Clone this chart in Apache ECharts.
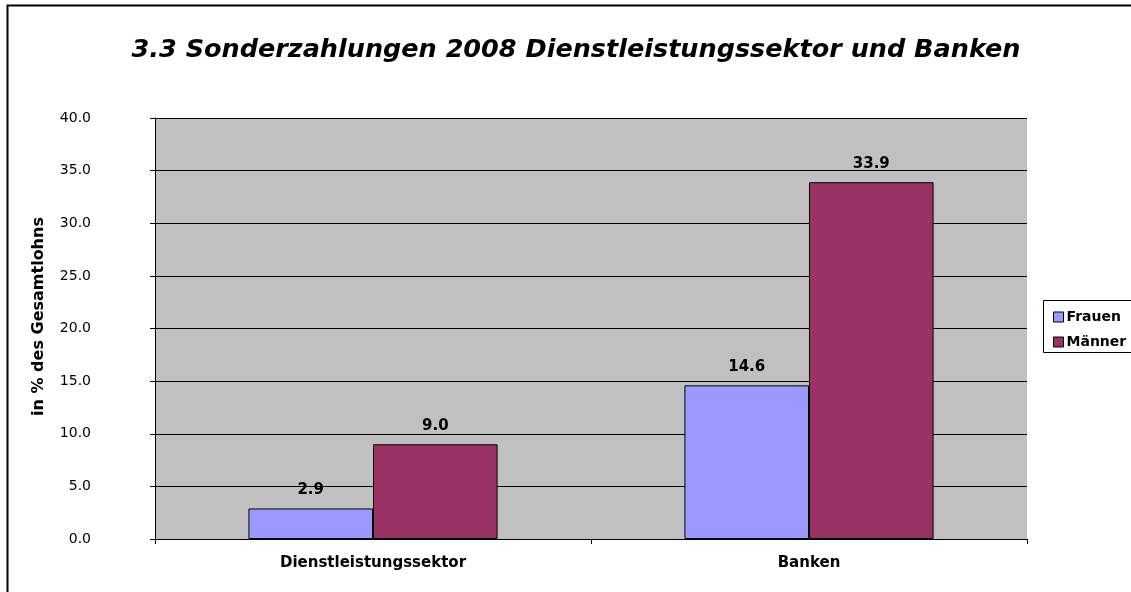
<!DOCTYPE html>
<html>
<head>
<meta charset="utf-8">
<script src="https://cdn.jsdelivr.net/npm/echarts@6/dist/echarts.min.js"></script>
<style>
  html, body { margin: 0; padding: 0; background: #fff; }
  #chart { width: 1131px; height: 592px; }
</style>
</head>
<body>
<div id="chart"></div>
<script>
const titleText = '3.3 Sonderzahlungen 2008 Dienstleistungssektor und Banken'
const yAxisName = 'in % des Gesamtlohns'
const categories = ['Dienstleistungssektor', 'Banken']
const frauen = [2.9, 14.6]
const maenner = [9.0, 33.9]

const chart = echarts.init(document.getElementById('chart'), null, { renderer: 'canvas' })

const labelStyle = {
  show: true,
  position: 'top',
  distance: 11,
  color: '#000',
  fontFamily: 'DejaVu Sans',
  fontWeight: 'bold',
  fontSize: 15,
  formatter: (p) => p.value.toFixed(1),
}

chart.setOption({
  backgroundColor: '#fff',
  animation: false,
  title: {
    text: titleText,
    left: 571,
    top: 32,
    textAlign: 'center',
    textStyle: {
      fontFamily: 'DejaVu Sans',
      fontStyle: 'italic',
      fontWeight: 'bold',
      fontSize: 25.5,
      color: '#000',
    },
  },
  graphic: [
    {
      type: 'rect',
      shape: { x: 7.5, y: 5.5, width: 1200, height: 700 },
      style: { fill: 'none', stroke: '#000', lineWidth: 2 },
      silent: true,
      z: 100,
    },
    {
      type: 'rect',
      shape: { x: 1043.5, y: 300.5, width: 120, height: 52 },
      style: { fill: '#fff', stroke: '#000', lineWidth: 1 },
      silent: true,
      z: 1,
    },
  ],
  legend: {
    orient: 'vertical',
    left: 1048,
    top: 305,
    itemWidth: 10,
    itemHeight: 10,
    itemGap: 11,
    icon: 'rect',
    textStyle: {
      fontFamily: 'DejaVu Sans',
      fontWeight: 'bold',
      fontSize: 14,
      color: '#000',
      padding: [0, 0, 0, -2],
    },
    data: [
      { name: 'Frauen', itemStyle: { borderColor: '#000', borderWidth: 1 } },
      { name: 'Männer', itemStyle: { borderColor: '#000', borderWidth: 1 } },
    ],
    z: 5,
  },
  grid: {
    left: 155,
    top: 118,
    width: 872,
    height: 421,
    show: true,
    backgroundColor: '#c0c0c0',
    borderWidth: 0,
  },
  xAxis: {
    type: 'category',
    data: categories,
    axisLine: { lineStyle: { color: '#000', width: 1 } },
    axisTick: { show: true, length: 5, lineStyle: { color: '#000' } },
    axisLabel: {
      margin: 17,
      color: '#000',
      fontFamily: 'DejaVu Sans',
      fontWeight: 'bold',
      fontSize: 15,
    },
  },
  yAxis: {
    type: 'value',
    min: 0,
    max: 40,
    interval: 5,
    name: yAxisName,
    nameLocation: 'middle',
    nameGap: 108,
    nameTextStyle: {
      color: '#000',
      fontFamily: 'DejaVu Sans',
      fontWeight: 'bold',
      fontSize: 16,
      padding: [0, 0, 0, 24],
    },
    axisLine: { show: true, lineStyle: { color: '#000' } },
    axisTick: { show: true, length: 5, lineStyle: { color: '#000' } },
    axisLabel: {
      margin: 64,
      color: '#000',
      fontFamily: 'DejaVu Sans',
      fontSize: 14,
      formatter: (v) => v.toFixed(1),
    },
    splitLine: { show: true, lineStyle: { color: '#000', width: 1 } },
  },
  series: [
    {
      name: 'Frauen',
      type: 'bar',
      data: frauen,
      barGap: '0%',
      barCategoryGap: '42.86%',
      itemStyle: { color: '#9999ff', borderColor: '#000', borderWidth: 1 },
      label: labelStyle,
    },
    {
      name: 'Männer',
      type: 'bar',
      data: maenner,
      itemStyle: { color: '#993366', borderColor: '#000', borderWidth: 1 },
      label: labelStyle,
    },
  ],
})
</script>
</body>
</html>
